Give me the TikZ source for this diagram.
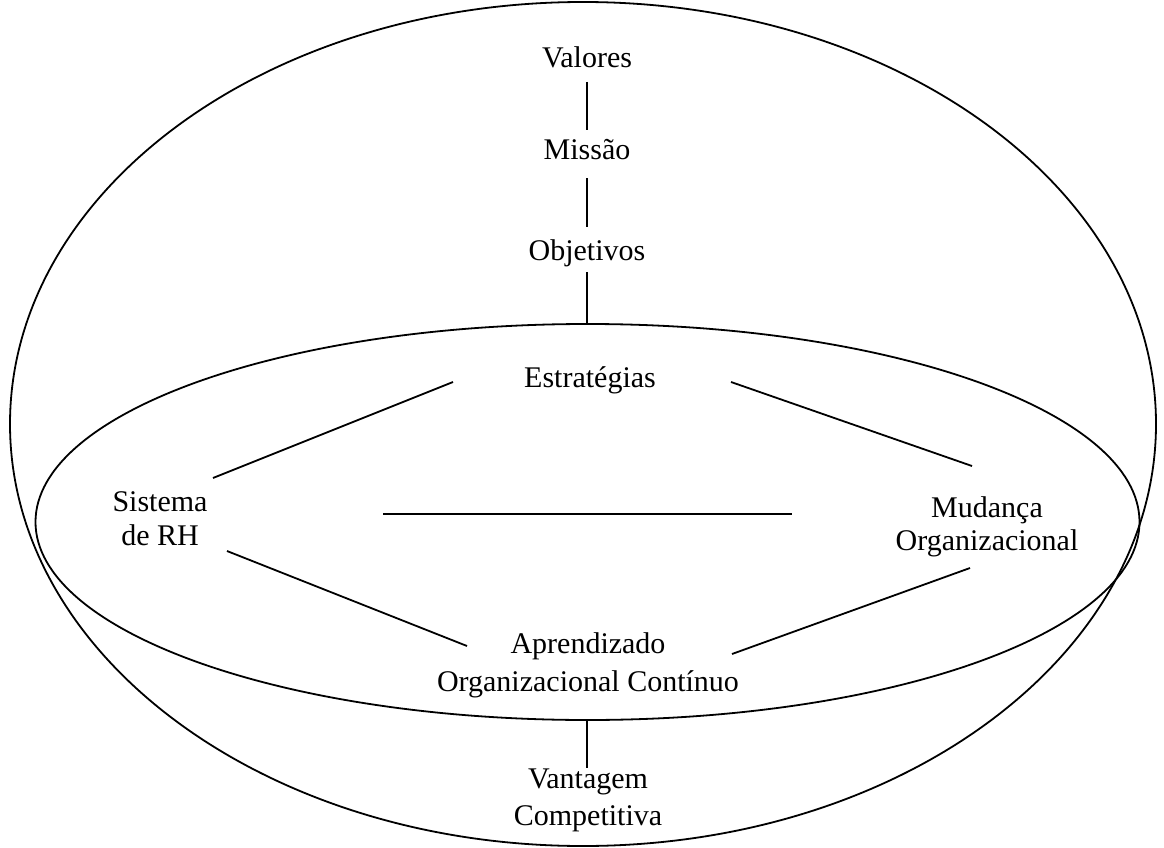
\documentclass[tikz,border=0pt]{standalone}
\usepackage{fontspec}
\setmainfont{Liberation Serif}
\begin{document}
\begin{tikzpicture}[x=1pt,y=-1pt,
  every path/.style={line width=1.8pt},
  label/.style={inner sep=0pt,anchor=base,align=center,font=\fontsize{30}{35}\selectfont},
  link/.style={draw,line width=1.8pt}]
\useasboundingbox (0,0) rectangle (1164,848);

% ellipses
\draw (583,424) ellipse [x radius=573, y radius=422];
\draw (587.5,522) ellipse [x radius=552, y radius=198];

% labels (multi-line labels sit on the baseline of their last line)
\node[label] (val) at (587,68) {Valores};
\node[label] (mis) at (587,159) {Missão};
\node[label] (obj) at (587,260) {Objetivos};
\node[label] (est) at (590,387) {Estratégias};
\node[label,font=\fontsize{30}{34}\selectfont] (rh) at (160,545) {Sistema\\de RH};
\node[label,font=\fontsize{30}{33}\selectfont] (mud) at (987,550) {Mudança\\Organizacional};
\node[label,font=\fontsize{30}{38}\selectfont] (apr) at (588,691) {Aprendizado\\Organizacional Contínuo};
\node[label,font=\fontsize{30}{37}\selectfont] (van) at (588,825) {Vantagem\\Competitiva};

% connector end points
\coordinate (valS) at (587,82);   \coordinate (misN) at (587,130);
\coordinate (misS) at (587,178);  \coordinate (objN) at (587,227);
\coordinate (objS) at (587,272);  \coordinate (inTop) at (587,324);
\coordinate (estW) at (453,382);  \coordinate (rhNE) at (213,478);
\coordinate (estE) at (731,382);  \coordinate (mudNW) at (972,466);
\coordinate (rhE) at (383,514);   \coordinate (mudW) at (792,514);
\coordinate (rhSE) at (227,551);  \coordinate (aprW) at (467,646);
\coordinate (mudSW) at (970,568); \coordinate (aprE) at (732,654);
\coordinate (inBot) at (587,720); \coordinate (vanN) at (587,768);

% connectors
\draw[link] (valS) -- (misN);
\draw[link] (misS) -- (objN);
\draw[link] (objS) -- (inTop);
\draw[link] (estW) -- (rhNE);
\draw[link] (estE) -- (mudNW);
\draw[link] (rhE) -- (mudW);
\draw[link] (rhSE) -- (aprW);
\draw[link] (mudSW) -- (aprE);
\draw[link] (inBot) -- (vanN);
\end{tikzpicture}
\end{document}
